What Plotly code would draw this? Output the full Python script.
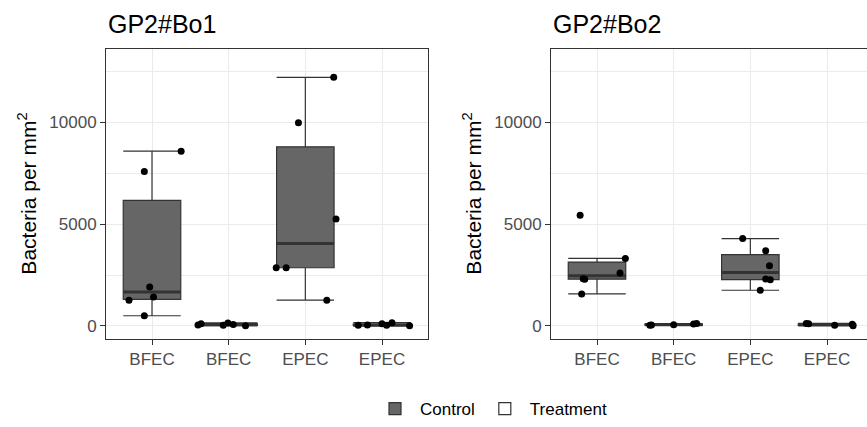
import numpy as np
import plotly.graph_objects as go

# ---------------- data ----------------
categories = ["BFEC", "BFEC", "EPEC", "EPEC"]
groups = ["Control", "Treatment", "Control", "Treatment"]
panel_titles = ["GP2#Bo1", "GP2#Bo2"]
y_ticks = [0, 5000, 10000]
y_tick_labels = ["0", "5000", "10000"]
y_minor = [2500, 7500, 12500]

# GP2#Bo1
bo1_bfec_control = [8585, 7590, 1917, 1429, 1268, 502]
bo1_bfec_control_jit = [0.38, -0.10, -0.03, 0.02, -0.30, -0.10]
bo1_bfec_treat = [50, 110, 40, 150, 70, 15]
bo1_bfec_treat_jit = [-0.40, -0.36, -0.07, -0.01, 0.06, 0.22]
bo1_epec_control = [12210, 9983, 5249, 2860, 2860, 1268]
bo1_epec_control_jit = [0.37, -0.09, 0.40, -0.38, -0.25, 0.28]
bo1_epec_treat = [30, 46, 112, 30, 161, 15]
bo1_epec_treat_jit = [-0.31, -0.19, 0.00, 0.06, 0.13, 0.36]

# GP2#Bo2
bo2_bfec_control = [5444, 3317, 2600, 2322, 2290, 1576]
bo2_bfec_control_jit = [-0.22, 0.37, 0.30, -0.18, -0.16, -0.20]
bo2_bfec_treat = [30, 45, 65, 95, 120]
bo2_bfec_treat_jit = [-0.31, -0.29, 0.00, 0.26, 0.30]
bo2_epec_control = [4293, 3690, 2957, 2307, 2273, 1756]
bo2_epec_control_jit = [-0.10, 0.20, 0.25, 0.20, 0.26, 0.13]
bo2_epec_treat = [120, 110, 30, 90, 10]
bo2_epec_treat_jit = [-0.27, -0.24, 0.10, 0.33, 0.34]

panels = [
    [(bo1_bfec_control, bo1_bfec_control_jit), (bo1_bfec_treat, bo1_bfec_treat_jit),
     (bo1_epec_control, bo1_epec_control_jit), (bo1_epec_treat, bo1_epec_treat_jit)],
    [(bo2_bfec_control, bo2_bfec_control_jit), (bo2_bfec_treat, bo2_bfec_treat_jit),
     (bo2_epec_control, bo2_epec_control_jit), (bo2_epec_treat, bo2_epec_treat_jit)],
]

# ---------------- styling ----------------
W, H = 867, 427
FONT = "Liberation Sans, Arial, sans-serif"
fills = {"Control": "#666666", "Treatment": "#FFFFFF"}
LINE = "#333333"
GRID = "#EBEBEB"
BOXW = 0.75


def box_stats(vals):
    v = np.asarray(vals, dtype=float)
    q1, med, q3 = np.percentile(v, [25, 50, 75])  # same as R type 7
    iqr = q3 - q1
    lf = v[v >= q1 - 1.5 * iqr].min()
    uf = v[v <= q3 + 1.5 * iqr].max()
    return q1, med, q3, lf, uf


fig = go.Figure()

for p, panel in enumerate(panels):
    xa = "x" if p == 0 else "x2"
    ya = "y" if p == 0 else "y2"
    mx, my = [], []
    for grp in ["Control", "Treatment"]:
        xs, q1s, meds, q3s, lfs, ufs = [], [], [], [], [], []
        for pos, (vals, jit) in enumerate(panel):
            if groups[pos] != grp:
                continue
            q1, med, q3, lf, uf = box_stats(vals)
            xs.append(pos); q1s.append(q1); meds.append(med); q3s.append(q3)
            lfs.append(lf); ufs.append(uf)
            mx += [pos - BOXW / 2, pos + BOXW / 2, None]
            my += [med, med, None]
        fig.add_trace(go.Box(
            x=xs, q1=q1s, median=meds, q3=q3s, lowerfence=lfs, upperfence=ufs,
            name=grp, legendgroup=grp, showlegend=(p == 0),
            xaxis=xa, yaxis=ya, width=BOXW, whiskerwidth=1, boxpoints=False,
            fillcolor=fills[grp], line=dict(color=LINE, width=1.2),
            hoverinfo="skip",
        ))
    # thicker median bars, as in the reference
    fig.add_trace(go.Scatter(
        x=mx, y=my, mode="lines", showlegend=False, xaxis=xa, yaxis=ya,
        line=dict(color=LINE, width=3), hoverinfo="skip",
    ))
    jx, jy = [], []
    for pos, (vals, jit) in enumerate(panel):
        jx += [pos + j for j in jit]
        jy += list(vals)
    fig.add_trace(go.Scatter(
        x=jx, y=jy, mode="markers", showlegend=False, xaxis=xa, yaxis=ya,
        marker=dict(color="black", size=7), hoverinfo="skip",
    ))

px_unit = (428 - 106) / 4.2
common_x = dict(
    tickmode="array", tickvals=list(range(len(categories))), ticktext=categories,
    showgrid=True, gridcolor=GRID, gridwidth=1.1, zeroline=False,
    showline=True, linecolor=LINE, linewidth=1, mirror=True,
    ticks="outside", ticklen=5, tickcolor=LINE, tickwidth=1,
    tickfont=dict(family=FONT, size=17, color="#4D4D4D"), automargin=False,
)
common_y = dict(
    range=[-620, 13620], tickmode="array", tickvals=y_ticks, ticktext=y_tick_labels,
    showgrid=True, gridcolor=GRID, gridwidth=1.1, zeroline=False,
    showline=True, linecolor=LINE, linewidth=1,
    ticks="outside", ticklen=5, tickcolor=LINE, tickwidth=1,
    tickfont=dict(family=FONT, size=17, color="#4D4D4D"), automargin=False,
    minor=dict(tickvals=y_minor, showgrid=True, gridcolor=GRID, gridwidth=0.6, ticks=""),
)
ydom = [1 - 341 / H, 1 - 49 / H]

fig.update_layout(
    width=W, height=H, margin=dict(l=0, r=0, t=0, b=0),
    paper_bgcolor="white", plot_bgcolor="white", boxmode="overlay",
    xaxis=dict(common_x, domain=[106 / W, 428 / W], range=[-0.6, 3.6], anchor="y"),
    yaxis=dict(common_y, domain=ydom, anchor="x", mirror=True),
    xaxis2=dict(common_x, domain=[551 / W, 1.0],
                range=[-0.6, -0.6 + (W - 551) / px_unit], anchor="y2"),
    yaxis2=dict(common_y, domain=ydom, anchor="x2", mirror=False),
    legend=dict(orientation="h", x=370 / W, xanchor="left", y=1 - 412 / H, yanchor="middle",
                font=dict(family=FONT, size=17, color="black"), bgcolor="rgba(0,0,0,0)",
                itemwidth=40),
    font=dict(family=FONT),
    annotations=[
        dict(text=panel_titles[0], x=106 / W, y=1 - 24 / H, xref="paper", yref="paper",
             xanchor="left", yanchor="middle", showarrow=False,
             font=dict(family=FONT, size=25, color="black")),
        dict(text=panel_titles[1], x=551 / W, y=1 - 24 / H, xref="paper", yref="paper",
             xanchor="left", yanchor="middle", showarrow=False,
             font=dict(family=FONT, size=25, color="black")),
        dict(text="Bacteria per mm<sup>2</sup>", x=27 / W, y=1 - 195 / H, xref="paper", yref="paper",
             xanchor="center", yanchor="middle", showarrow=False, textangle=-90,
             font=dict(family=FONT, size=21, color="black")),
        dict(text="Bacteria per mm<sup>2</sup>", x=472 / W, y=1 - 195 / H, xref="paper", yref="paper",
             xanchor="center", yanchor="middle", showarrow=False, textangle=-90,
             font=dict(family=FONT, size=21, color="black")),
    ],
)

fig.write_html("out.html", config={"displayModeBar": False},
               post_script="document.body.style.margin='0';document.body.style.overflow='hidden';")
